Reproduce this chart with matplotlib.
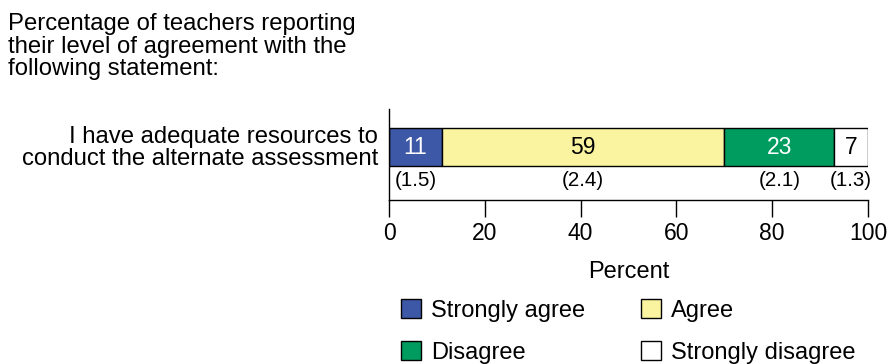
import matplotlib.pyplot as plt

plt.rcParams['font.family'] = ['Liberation Sans', 'DejaVu Sans']

categories = ['Strongly agree', 'Agree', 'Disagree', 'Strongly disagree']
percents = [11, 59, 23, 7]
std_errors = ['(1.5)', '(2.4)', '(2.1)', '(1.3)']
colors = ['#3d58a6', '#faf3a0', '#009b5e', '#ffffff']
text_colors = ['white', 'black', 'white', 'black']

fig = plt.figure(figsize=(8.89, 3.64), dpi=100)
ax = fig.add_axes([389 / 889, 164 / 364, 479 / 889, 91 / 364])

bar_y = 53
left = 0
for cat, val, se, c, tc in zip(categories, percents, std_errors, colors, text_colors):
    ax.barh(bar_y, val, left=left, height=38, color=c, edgecolor='black',
            linewidth=1.0, label=cat)
    mid = left + val / 2
    ax.text(mid, bar_y, str(val), ha='center', va='center', fontsize=16.5, color=tc)
    ax.text(mid, 20, se, ha='center', va='center', fontsize=14.8)
    left += val

ax.set_xlim(0, 100)
ax.set_ylim(0, 91)
ax.set_xticks([0, 20, 40, 60, 80, 100])
ax.tick_params(axis='x', direction='out', length=12, width=1, labelsize=16.5, pad=3.5)
ax.set_yticks([])
for s in ['top', 'right']:
    ax.spines[s].set_visible(False)
ax.spines['left'].set_linewidth(1)
ax.spines['bottom'].set_linewidth(1)
ax.set_xlabel('Percent', fontsize=17, labelpad=12)

fig.text(8 / 889, 1 - 13 / 364,
         'Percentage of teachers reporting\ntheir level of agreement with the\nfollowing statement:',
         ha='left', va='top', fontsize=17.2, linespacing=1.03)
fig.text(378 / 889, 1 - 148 / 364,
         'I have adequate resources to\nconduct the alternate assessment',
         ha='right', va='center', fontsize=17.2, linespacing=1.03)

handles, labels = ax.get_legend_handles_labels()
order = [0, 2, 1, 3]
fig.legend([handles[i] for i in order], [labels[i] for i in order],
           ncol=2, loc='upper left', bbox_to_anchor=(401 / 889, 1 - 299 / 364),
           frameon=False, fontsize=17, handlelength=0.85, handleheight=0.85,
           handletextpad=0.42, columnspacing=2.37, labelspacing=0.84,
           borderaxespad=0, borderpad=0)

fig.savefig('out.png', dpi=100)
